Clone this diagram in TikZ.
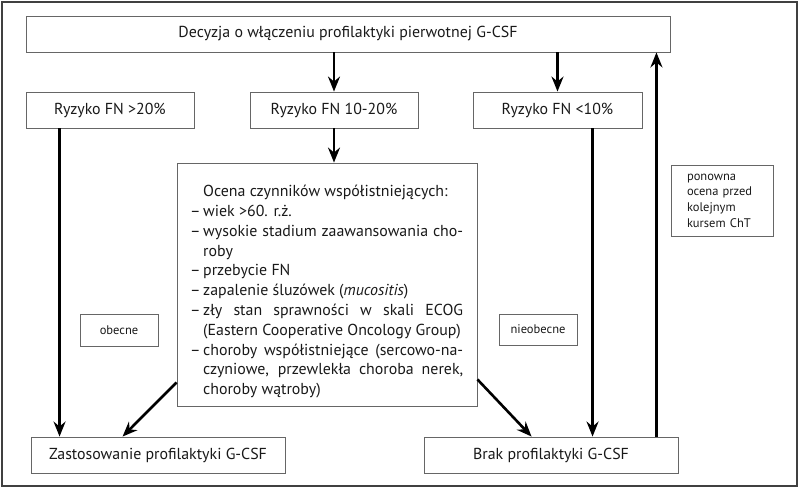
\documentclass[tikz,border=0pt]{standalone}
\usepackage{fontspec}
\setmainfont{PT Sans}
\usetikzlibrary{arrows.meta,calc}
\newcommand\dashbx{\makebox[13pt][l]{–}}
\newcommand\indbx{\hspace*{13pt}}
\begin{document}
\begin{tikzpicture}[x=1pt,y=-1pt,
  box/.style={draw=black!60,line width=0.9pt,inner sep=0pt,minimum height=36pt,text=black!90,
    font=\fontsize{15.9}{19.8}\selectfont},
  smallbox/.style={draw=black!60,line width=0.9pt,inner sep=0pt,text=black!90,
    font=\fontsize{12.5}{15.6}\selectfont},
  arr/.style={line width=2.6pt,-{Stealth[length=15pt,width=12pt,inset=5pt]}}]
\useasboundingbox (0,0) rectangle (800,487);
\draw[black!75,line width=1.3pt] (2,2) rectangle (797,486);
% nodes
\node[box,minimum width=644pt] (top) at (348,34) {Decyzja o włączeniu profilaktyki pierwotnej G-CSF};
\node[box,minimum width=168pt] (r1) at (110,110) {Ryzyko FN >20\%};
\node[box,minimum width=168pt] (r2) at (334,110) {Ryzyko FN 10-20\%};
\node[box,minimum width=169pt] (r3) at (557.5,110) {Ryzyko FN <10\%};
\node[box,minimum width=300pt,minimum height=243pt] (ocena) at (327,284.5) {};
\node[anchor=north west,inner sep=0pt,align=left,text=black!90,
  font=\fontsize{15.9}{19.8}\selectfont] (ocenatxt) at (190,185) {%
\indbx Ocena czynników współistniejących:\\
\dashbx wiek >60. r.ż.\\
\dashbx\makebox[260pt][s]{wysokie stadium zaawansowania cho-}\\
\indbx roby\\
\dashbx przebycie FN\\
\dashbx zapalenie śluzówek (\textit{mucositis})\\
\dashbx\makebox[260pt][s]{zły stan sprawności w skali ECOG}\\
\indbx (Eastern Cooperative Oncology Group)\\
\dashbx\makebox[260pt][s]{choroby współistniejące (sercowo-na-}\\
\indbx\makebox[260pt][s]{czyniowe, przewlekła choroba nerek,}\\
\indbx choroby wątroby)};
\node[smallbox,minimum width=78pt,minimum height=32pt] (obecne) at (119,330) {obecne};
\node[smallbox,minimum width=78pt,minimum height=31pt] (nieobecne) at (538,329.5) {nieobecne};
\node[smallbox,minimum width=102pt,minimum height=71pt,align=left,text width=70pt,inner sep=0pt] (ponowna) at (722,200.5) {ponowna\\ocena przed\\kolejnym\\kursem ChT};
\node[box,minimum width=254pt] (zast) at (158,455) {Zastosowanie profilaktyki G-CSF};
\node[box,minimum width=254pt] (brak) at (551,455) {Brak profilaktyki G-CSF};
% connectors
\draw[arr] (r2.north |- top.south) -- (r2.north);
\draw[arr] (r3.north |- top.south) -- (r3.north);
\draw[arr] (r2.south) -- (r2.south |- ocena.north);
\draw[arr] ([xshift=34pt]r1.south west) -- ([xshift=34pt]r1.south west |- zast.north);
\draw[arr] ([xshift=120pt]r3.south west) -- ([xshift=120pt]r3.south west |- brak.north);
\draw[arr] ([yshift=24pt]ocena.south west) -- ([xshift=92pt]zast.north west);
\draw[arr] ([yshift=27pt]ocena.south east) -- ([xshift=108pt]brak.north west);
\draw[arr] ([xshift=-22pt]brak.north east) -- ([xshift=-22pt]brak.north east |- top.south);
\end{tikzpicture}
\end{document}
